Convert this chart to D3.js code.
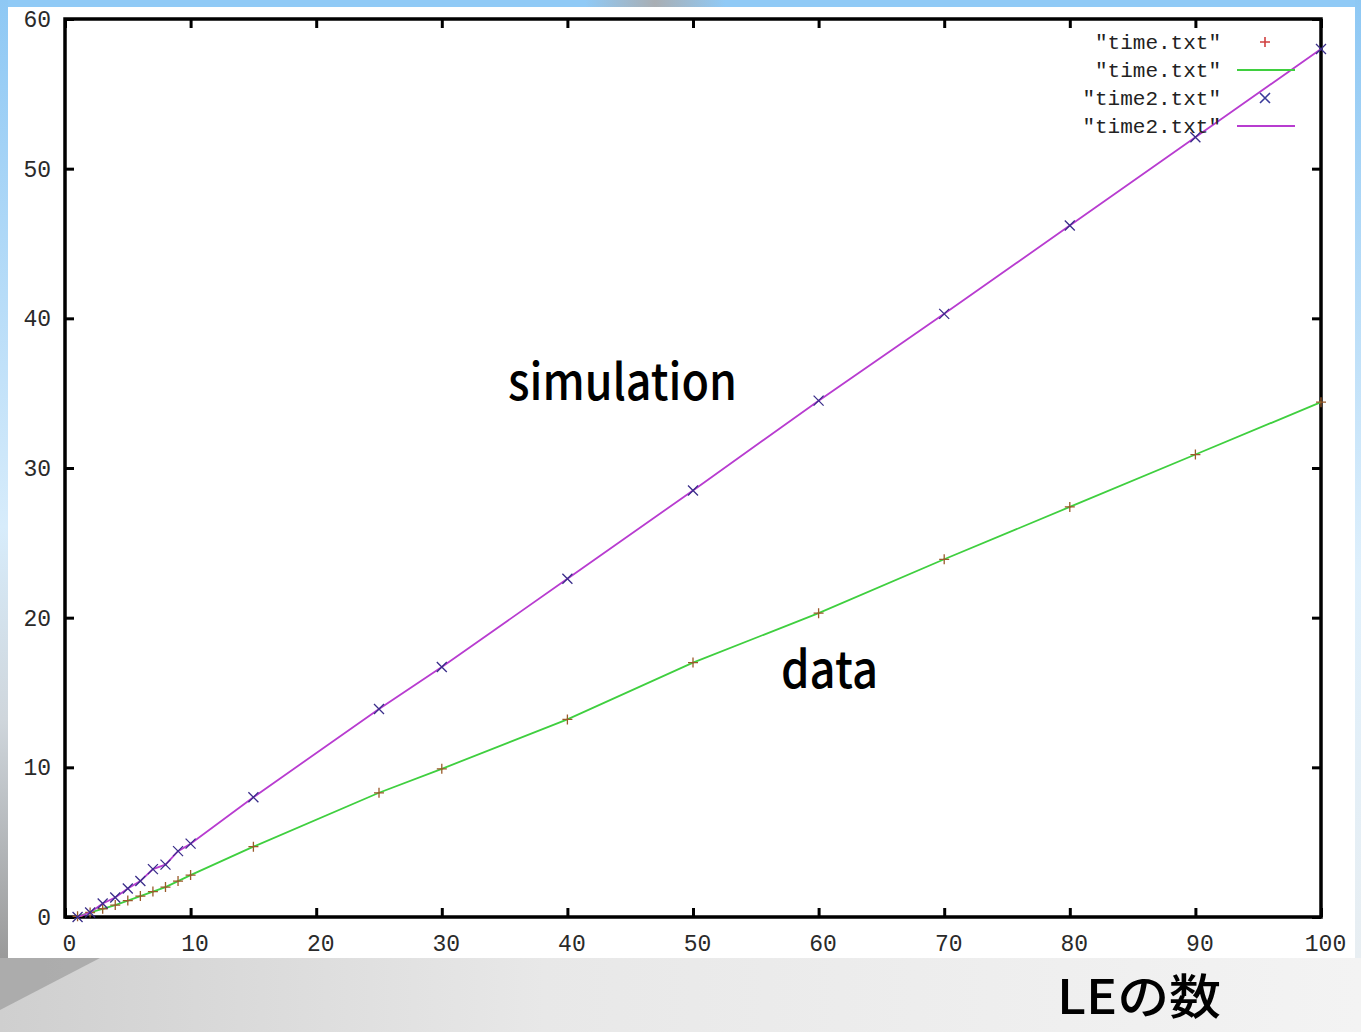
<!DOCTYPE html>
<html>
<head>
<meta charset="utf-8">
<script src="https://cdn.jsdelivr.net/npm/d3@7"></script>
<style>
  html, body { margin: 0; padding: 0; background: #fff; }
  svg { display: block; }
</style>
</head>
<body>
<div id="chart"></div>
<script>
// data
const xTicks = [0, 10, 20, 30, 40, 50, 60, 70, 80, 90, 100];
const yTicks = [0, 10, 20, 30, 40, 50, 60];
const sizes = [1, 2, 3, 4, 5, 6, 7, 8, 9, 10, 15, 25, 30, 40, 50, 60, 70, 80, 90, 100];
const timeData = [0.05, 0.3, 0.55, 0.8, 1.1, 1.4, 1.7, 2.0, 2.4, 2.8, 4.7, 8.3, 9.9, 13.2, 17.0, 20.3, 23.9, 27.4, 30.9, 34.4];
const time2Data = [0.0, 0.3, 0.9, 1.3, 1.9, 2.4, 3.2, 3.5, 4.4, 4.9, 8.0, 13.9, 16.7, 22.6, 28.5, 34.5, 40.3, 46.2, 52.1, 58.0];
const legendLabels = ['"time.txt"', '"time.txt"', '"time2.txt"', '"time2.txt"'];

var W = 1361, H = 1032;
var margin = {top: 19, right: 40, bottom: 115, left: 65};

const svg = d3.select("#chart").append("svg")
    .attr("width", W)
    .attr("height", H);

// slide background
const defs = svg.append("defs");
const gBottom = defs.append("linearGradient").attr("id", "gb")
    .attr("x1", "0%").attr("x2", "100%");
gBottom.append("stop").attr("offset", "0%").attr("stop-color", "#cfcfcf");
gBottom.append("stop").attr("offset", "40%").attr("stop-color", "#e8e8e8");
gBottom.append("stop").attr("offset", "100%").attr("stop-color", "#f3f3f3");
const gLeft = defs.append("linearGradient").attr("id", "gl")
    .attr("x1", "0%").attr("x2", "0%").attr("y1", "0%").attr("y2", "100%");
gLeft.append("stop").attr("offset", "0%").attr("stop-color", "#8ec8f4");
gLeft.append("stop").attr("offset", "55%").attr("stop-color", "#d7ecfb");
gLeft.append("stop").attr("offset", "75%").attr("stop-color", "#cfd6dc");
gLeft.append("stop").attr("offset", "100%").attr("stop-color", "#9a9a9a");
const gRight = defs.append("linearGradient").attr("id", "gr")
    .attr("x1", "0%").attr("x2", "0%").attr("y1", "0%").attr("y2", "100%");
gRight.append("stop").attr("offset", "0%").attr("stop-color", "#8ec8f4");
gRight.append("stop").attr("offset", "60%").attr("stop-color", "#dff0fc");
gRight.append("stop").attr("offset", "100%").attr("stop-color", "#e8eef2");
const gTop = defs.append("linearGradient").attr("id", "gt")
    .attr("x1", "0%").attr("x2", "100%");
gTop.append("stop").attr("offset", "0%").attr("stop-color", "#90caf6");
gTop.append("stop").attr("offset", "50%").attr("stop-color", "#a9aeb3");
gTop.append("stop").attr("offset", "100%").attr("stop-color", "#90caf6");

svg.append("rect").attr("width", W).attr("height", H).attr("fill", "url(#gb)");
svg.append("rect").attr("width", W).attr("height", 8).attr("fill", "#90caf6");
svg.append("rect").attr("x", 585).attr("width", 140).attr("height", 8).attr("fill", "url(#gt)");
svg.append("rect").attr("width", 8).attr("height", 958).attr("fill", "url(#gl)");
svg.append("rect").attr("x", 1355).attr("width", 6).attr("height", 958).attr("fill", "url(#gr)");
svg.append("path")
    .attr("d", "M0,958 L100,958 L0,1010 Z")
    .attr("fill", "#9c9c9c").attr("opacity", 0.7);
svg.append("rect").attr("x", 8).attr("y", 7).attr("width", 1347).attr("height", 951)
    .attr("fill", "#ffffff");

// scales
var x = d3.scaleLinear().domain([0, 100]).range([margin.left, 1321]);
var y = d3.scaleLinear().domain([0, 60]).range([917, margin.top]);

const tickFont = "'Liberation Mono', 'DejaVu Sans Mono', monospace";

// axes, gnuplot style: inward ticks mirrored on all sides
function styleAxis(g) {
    g.select(".domain").remove();
    g.selectAll(".tick line").attr("stroke", "#000").attr("stroke-width", 3);
    g.selectAll(".tick text")
        .attr("font-family", tickFont)
        .attr("font-size", 23)
        .attr("fill", "#2a2a2a");
}

svg.append("g")
    .attr("transform", "translate(0," + y(0) + ")")
    .call(d3.axisBottom(x).tickValues(xTicks).tickSize(-9).tickPadding(18))
    .call(styleAxis)
    .selectAll(".tick text").attr("dx", 4);

svg.append("g")
    .attr("transform", "translate(0," + y(60) + ")")
    .call(d3.axisTop(x).tickValues(xTicks).tickSize(-9).tickFormat(""))
    .call(styleAxis);

svg.append("g")
    .attr("transform", "translate(" + x(0) + ",0)")
    .call(d3.axisLeft(y).tickValues(yTicks).tickSize(-9).tickPadding(14))
    .call(styleAxis);

svg.append("g")
    .attr("transform", "translate(" + x(100) + ",0)")
    .call(d3.axisRight(y).tickValues(yTicks).tickSize(-9).tickFormat(""))
    .call(styleAxis);

// border
svg.append("rect")
    .attr("x", x(0)).attr("y", y(60))
    .attr("width", x(100) - x(0)).attr("height", y(0) - y(60))
    .attr("fill", "none").attr("stroke", "#000").attr("stroke-width", 3.5);

// series
const series = [
    {values: timeData, line: "#3fcf3f", point: "#9a5a2a", marker: "plus"},
    {values: time2Data, line: "#b83cd0", point: "#3a2e8a", marker: "cross"}
];

const line = d3.line().x(d => x(d[0])).y(d => y(d[1]));
const ms = 5;
function markerPath(type, cx, cy) {
    if (type === "plus")
        return "M" + (cx - ms) + "," + cy + "H" + (cx + ms) + "M" + cx + "," + (cy - ms) + "V" + (cy + ms);
    return "M" + (cx - ms) + "," + (cy - ms) + "L" + (cx + ms) + "," + (cy + ms) +
           "M" + (cx - ms) + "," + (cy + ms) + "L" + (cx + ms) + "," + (cy - ms);
}

series.forEach(s => {
    const pts = sizes.map((n, i) => [n, s.values[i]]);
    svg.append("path")
        .datum(pts)
        .attr("d", line)
        .attr("fill", "none")
        .attr("stroke", s.line)
        .attr("stroke-width", 1.8);
    svg.append("g").selectAll("path")
        .data(pts)
        .enter()
        .append("path")
        .attr("d", d => markerPath(s.marker, x(d[0]), y(d[1])))
        .attr("stroke", s.point)
        .attr("stroke-width", 1.3)
        .attr("fill", "none");
});

// legend
const legendItems = [
    {label: legendLabels[0], kind: "point", color: "#d04040", marker: "plus"},
    {label: legendLabels[1], kind: "line", color: "#3fcf3f"},
    {label: legendLabels[2], kind: "point", color: "#3a3a9a", marker: "cross"},
    {label: legendLabels[3], kind: "line", color: "#b83cd0"}
];
const legend = svg.append("g");
legendItems.forEach((d, i) => {
    const ly = 42 + i * 28;
    legend.append("text")
        .attr("x", 1221).attr("y", ly)
        .attr("dy", "0.35em")
        .attr("text-anchor", "end")
        .attr("font-family", tickFont)
        .attr("font-size", 21)
        .attr("fill", "#222")
        .text(d.label);
    if (d.kind === "line") {
        legend.append("line")
            .attr("x1", 1237).attr("x2", 1295)
            .attr("y1", ly).attr("y2", ly)
            .attr("stroke", d.color).attr("stroke-width", 2);
    } else {
        legend.append("path")
            .attr("d", markerPath(d.marker, 1265, ly))
            .attr("stroke", d.color).attr("stroke-width", 1.6).attr("fill", "none");
    }
});

// annotations
const annFont = "'Noto Sans CJK JP', 'Noto Sans', sans-serif";
svg.append("text")
    .attr("x", 508).attr("y", 400)
    .attr("font-family", annFont).attr("font-size", 50).attr("font-weight", 500)
    .attr("textLength", 229).attr("lengthAdjust", "spacingAndGlyphs")
    .attr("fill", "#000")
    .text("simulation");
svg.append("text")
    .attr("x", 781).attr("y", 688)
    .attr("font-family", annFont).attr("font-size", 50).attr("font-weight", 500)
    .attr("textLength", 97).attr("lengthAdjust", "spacingAndGlyphs")
    .attr("fill", "#000")
    .text("data");
svg.append("text")
    .attr("x", 1057).attr("y", 1014)
    .attr("font-family", annFont).attr("font-size", 48).attr("font-weight", 500)
    .attr("textLength", 164).attr("lengthAdjust", "spacingAndGlyphs")
    .attr("fill", "#000")
    .text("LEの数");
</script>
</body>
</html>
